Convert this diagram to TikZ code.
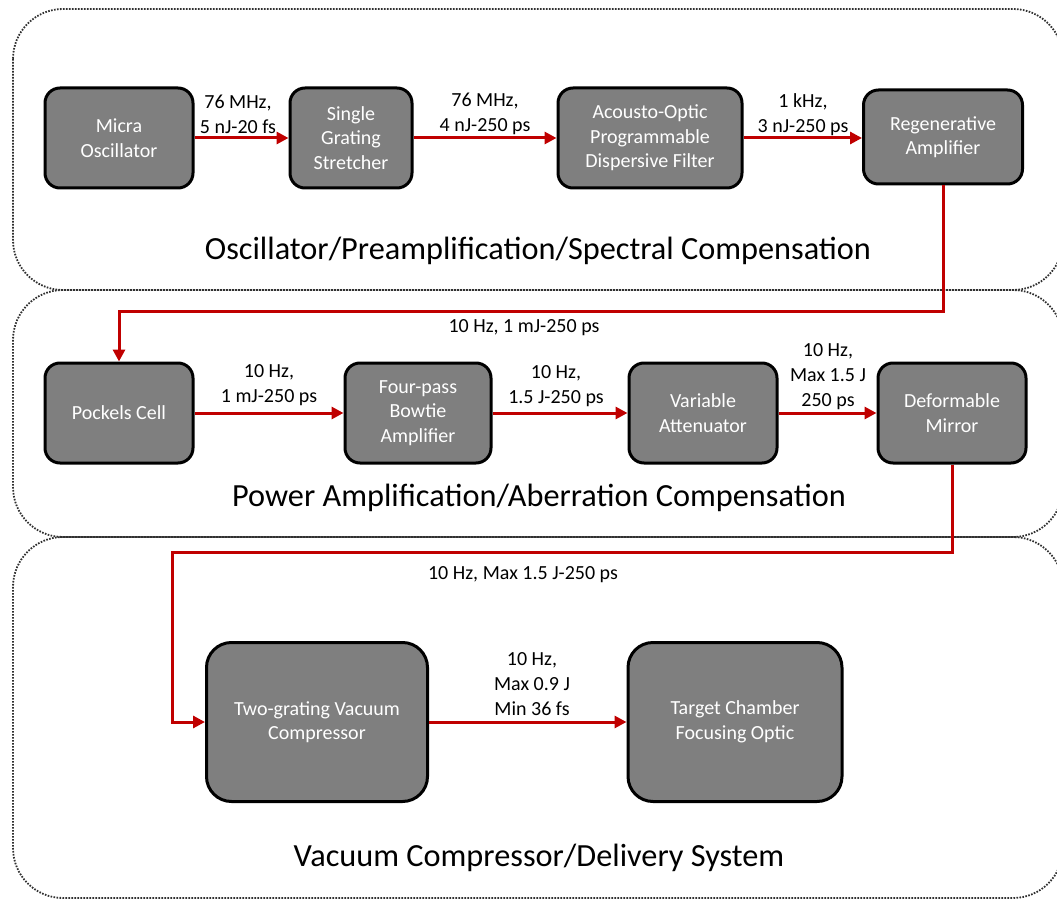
\documentclass[tikz,border=0pt]{standalone}
\usepackage{fontspec}
\setmainfont{Carlito}
\usetikzlibrary{arrows.meta,calc}
\definecolor{lred}{HTML}{C00000}
\definecolor{boxgray}{HTML}{7F7F7F}
\definecolor{dotgray}{HTML}{303030}
\tikzset{
  panel/.style={draw=dotgray, line width=1.8pt, dash pattern=on 1.6pt off 1.4pt, rounded corners=50pt},
  blk/.style={draw=black, fill=boxgray, line width=3pt, rounded corners=15pt, text=white, align=center,
     font=\fontsize{20}{24.5}\selectfont, inner sep=0pt},
  bigblk/.style={blk, rounded corners=25pt},
  arr/.style={draw=lred, line width=3pt, -{Triangle[length=12pt,width=12pt]}},
  lbl/.style={align=center, font=\fontsize{20}{25}\selectfont, inner sep=0pt, text=black},
  ttl/.style={font=\fontsize{32.3}{38}\selectfont, inner sep=0pt, text=black}
}
\begin{document}
\begin{tikzpicture}[x=1pt,y=-1pt]
\useasboundingbox (0,0) rectangle (1057,901);
\clip (0,0) rectangle (1057,901);
\fill[white] (0,0) rectangle (1057,901);
% panels
\draw[panel] (13,9) rectangle (1063,290);
\draw[panel] (13,290) rectangle (1063,537);
\draw[panel] (13,537) rectangle (1063,898);
% titles
\node[ttl] (t1) at (538,251) {Oscillator/Preamplification/Spectral Compensation};
\node[ttl] (t2) at (539,498) {Power Amplification/Aberration Compensation};
\node[ttl] (t3) at (539,858) {Vacuum Compressor/Delivery System};
% row 1
\node[blk, minimum width=148pt, minimum height=100pt] (micra) at (119,138) {Micra\\Oscillator};
\node[blk, minimum width=122pt, minimum height=100pt] (sgs) at (351,138) {Single\\Grating\\Stretcher};
\node[blk, minimum width=184pt, minimum height=100pt] (aopdf) at (650,138) {Acousto-Optic\\Programmable\\Dispersive Filter};
\node[blk, minimum width=159pt, minimum height=94pt] (regen) at (943,137) {Regenerative\\Amplifier};
% row 2
\node[blk, minimum width=148pt, minimum height=100pt] (pockels) at (119,413) {Pockels Cell};
\node[blk, minimum width=146pt, minimum height=100pt] (bowtie) at (418,413) {Four-pass\\Bowtie\\Amplifier};
\node[blk, minimum width=148pt, minimum height=100pt] (atten) at (703,413) {Variable\\Attenuator};
\node[blk, minimum width=148pt, minimum height=100pt] (dm) at (952,413) {Deformable\\Mirror};
% row 3
\node[bigblk, minimum width=221pt, minimum height=159pt] (tg) at (317,722) {Two-grating Vacuum\\Compressor};
\node[bigblk, minimum width=214pt, minimum height=159pt] (tc) at (735,722) {Target Chamber\\Focusing Optic};
% connectors row 1
\draw[arr] (micra.east) -- (sgs.west);
\draw[arr] (sgs.east) -- (aopdf.west);
\draw[arr] (aopdf.east) -- (aopdf.east -| regen.west);
\coordinate (c1) at (943,311);
\draw[arr] (regen.south) -- (c1) -| (pockels.north);
% row 2
\draw[arr] (pockels.east) -- (bowtie.west);
\draw[arr] (bowtie.east) -- (atten.west);
\draw[arr] (atten.east) -- (dm.west);
\coordinate (c2) at (952,552);
\coordinate (c3) at (172,552);
\draw[arr] (dm.south) -- (c2) -- (c3) |- (tg.west);
% row 3
\draw[arr] (tg.east) -- (tc.west);
% labels
\node[lbl] (l1) at (238,114) {76 MHz,\\5 nJ-20 fs};
\node[lbl] (l2) at (485,114) {76 MHz,\\4 nJ-250 ps};
\node[lbl] (l3) at (803,115) {1 kHz,\\3 nJ-250 ps};
\node[lbl] (l4) at (524,328) {10 Hz, 1 mJ-250 ps};
\node[lbl] (l5) at (269,385) {10 Hz,\\1 mJ-250 ps};
\node[lbl] (l6) at (556,386) {10 Hz,\\1.5 J-250 ps};
\node[lbl] (l7) at (828,377) {10 Hz,\\Max 1.5 J\\250 ps};
\node[lbl] (l8) at (523,575) {10 Hz, Max 1.5 J-250 ps};
\node[lbl] (l9) at (532,684) {10 Hz,\\Max 0.9 J\\Min 36 fs};
\end{tikzpicture}
\end{document}
